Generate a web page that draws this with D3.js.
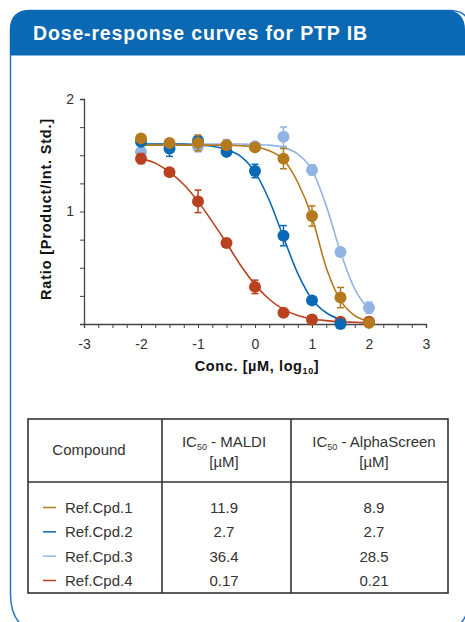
<!DOCTYPE html>
<html>
<head>
<meta charset="utf-8">
<script src="https://cdn.jsdelivr.net/npm/d3@7"></script>
<style>
  body { margin: 0; background: #fff; }
  svg { display: block; font-family: "Liberation Sans", Arial, sans-serif; }
</style>
</head>
<body>
<svg width="465" height="622"></svg>
<script>
// measured concentrations (log10 µM)
const concLog = [-2, -1.5, -1, -0.5, 0, 0.5, 1, 1.5, 2];

const cpd1Ratio = [1.65, 1.61, 1.61, 1.59, 1.57, 1.47, 0.96, 0.235, 0.01];
const cpd1Err   = [0.02, 0.02, 0.07, 0.02, 0.02, 0.09, 0.09, 0.09, 0.02];
const cpd2Ratio = [1.62, 1.56, 1.63, 1.53, 1.36, 0.785, 0.21, 0.0];
const cpd2Err   = [0.03, 0.07, 0.04, 0.02, 0.06, 0.09, 0.02, 0.02];
const cpd3Ratio = [1.53, 1.59, 1.58, 1.59, 1.58, 1.665, 1.37, 0.64, 0.145];
const cpd3Err   = [0.02, 0.03, 0.05, 0.05, 0.02, 0.086, 0.045, 0.02, 0.05];
const cpd4Ratio = [1.47, 1.35, 1.09, 0.72, 0.33, 0.10, 0.04, 0.02, 0.02];
const cpd4Err   = [0.045, 0.02, 0.10, 0.02, 0.06, 0.02, 0.02, 0.02, 0.03];

// fitted curves at quarter-log steps
const fitLog = [-2, -1.75, -1.5, -1.25, -1, -0.75, -0.5, -0.25, 0, 0.25, 0.5, 0.75, 1, 1.25, 1.5, 1.75, 2];
const cpd1Fit = [1.59, 1.59, 1.59, 1.59, 1.59, 1.59, 1.59, 1.585, 1.575, 1.54, 1.46, 1.26, 0.95, 0.5, 0.21, 0.075, 0.025];
const cpd2Fit = [1.60, 1.60, 1.60, 1.60, 1.59, 1.58, 1.55, 1.49, 1.35, 1.10, 0.77, 0.45, 0.22, 0.10, 0.04];
const cpd3Fit = [1.60, 1.60, 1.60, 1.60, 1.60, 1.60, 1.60, 1.60, 1.595, 1.59, 1.57, 1.51, 1.37, 1.05, 0.64, 0.31, 0.13];
const cpd4Fit = [1.47, 1.43, 1.35, 1.24, 1.09, 0.91, 0.72, 0.52, 0.35, 0.22, 0.13, 0.075, 0.045, 0.03, 0.02, 0.015, 0.01];

// table
const compounds = ["Ref.Cpd.1", "Ref.Cpd.2", "Ref.Cpd.3", "Ref.Cpd.4"];
const ic50Maldi = ["11.9", "2.7", "36.4", "0.17"];
const ic50Alpha = ["8.9", "2.7", "28.5", "0.21"];

const xTicks = [-3, -2, -1, 0, 1, 2, 3];
const yTicks = [0, 1, 2];

const colors = ["#b57a1e", "#0a69b4", "#92b4e2", "#b9411d"];

const series = [
  { name: compounds[0], color: colors[0], y: cpd1Ratio, err: cpd1Err, fit: cpd1Fit },
  { name: compounds[1], color: colors[1], y: cpd2Ratio, err: cpd2Err, fit: cpd2Fit },
  { name: compounds[2], color: colors[2], y: cpd3Ratio, err: cpd3Err, fit: cpd3Fit },
  { name: compounds[3], color: colors[3], y: cpd4Ratio, err: cpd4Err, fit: cpd4Fit }
];
// draw order seen in the picture (gold on top)
const drawOrder = [2, 3, 1, 0];

const svg = d3.select("svg");

// card frame: small top radius, large bottom radius, right side runs off the page
const L = 10.5, R = 470, T = 10.5, B = 634, rt = 20, rb = 40;
svg.append("path")
  .attr("d", `M${L},${T + rt} Q${L},${T} ${L + rt},${T} H${R - rt} Q${R},${T} ${R},${T + rt} V${B - rb} Q${R},${B} ${R - rb},${B} H${L + rb} Q${L},${B} ${L},${B - rb} Z`)
  .attr("fill", "#fff")
  .attr("stroke", "#2577c4")
  .attr("stroke-width", 1.5);

const hh = 45, HR = 465;
svg.append("path")
  .attr("d", `M${L - 0.5},${T + hh} V${T + rt} Q${L - 0.5},${T - 0.5} ${L + rt},${T - 0.5} H${HR - rt} Q${HR},${T - 0.5} ${HR},${T + rt} V${T + hh} Z`)
  .attr("fill", "#0b68b2");

svg.append("text")
  .attr("x", 33).attr("y", 40)
  .attr("fill", "#fff")
  .attr("font-size", 19.5)
  .attr("font-weight", "bold")
  .attr("letter-spacing", 0.85)
  .text("Dose-response curves for PTP IB");

// plot
const x = d3.scaleLinear().domain([-3, 3]).range([84, 426]);
const y = d3.scaleLinear().domain([0, 2]).range([324, 99]);

const xAxis = svg.append("g")
  .attr("transform", `translate(0,${y(0)})`)
  .call(d3.axisBottom(x)
    .tickValues(d3.range(-3, 3.001, 0.25))
    .tickSize(4)
    .tickPadding(11)
    .tickFormat(d => xTicks.includes(d) ? d3.format("")(d).replace("−", "-") : ""));

const yAxis = svg.append("g")
  .attr("transform", `translate(${x(-3)},0)`)
  .call(d3.axisLeft(y)
    .tickValues(d3.range(0, 2.001, 0.25))
    .tickSize(4)
    .tickPadding(6)
    .tickFormat(d => yTicks.includes(d) && d !== 0 ? d : ""));

[xAxis, yAxis].forEach(g => {
  g.select(".domain").attr("stroke", "#444").attr("stroke-width", 1.3);
  g.selectAll(".tick line").attr("stroke", "#444").attr("stroke-width", 1);
  g.selectAll(".tick text")
    .attr("fill", "#333")
    .attr("font-size", 14)
    .attr("font-family", "Liberation Sans, Arial, sans-serif");
});

svg.append("text")
  .attr("transform", "translate(51,209) rotate(-90)")
  .attr("text-anchor", "middle")
  .attr("font-size", 14.5)
  .attr("font-weight", "bold")
  .attr("letter-spacing", 0.8)
  .attr("fill", "#111")
  .text("Ratio [Product/Int. Std.]");

const xTitle = svg.append("text")
  .attr("x", 257).attr("y", 371)
  .attr("text-anchor", "middle")
  .attr("font-size", 14.5)
  .attr("font-weight", "bold")
  .attr("letter-spacing", 0.6)
  .attr("fill", "#111");
xTitle.append("tspan").text("Conc. [µM, log");
xTitle.append("tspan").attr("font-size", 9).attr("dy", 3).text("10");
xTitle.append("tspan").attr("dy", -3).text("]");

const line = d3.line()
  .x((d, i) => x(fitLog[i]))
  .y(d => y(d))
  .curve(d3.curveMonotoneX);

drawOrder.forEach(k => {
  const s = series[k];
  svg.append("path")
    .datum(s.fit)
    .attr("fill", "none")
    .attr("stroke", s.color)
    .attr("stroke-width", 1.6)
    .attr("d", line);
});

drawOrder.forEach(k => {
  const s = series[k];
  const pts = s.y.map((v, i) => ({ x: concLog[i], y: v, e: s.err[i] }));
  const g = svg.append("g").attr("stroke", s.color).attr("fill", s.color);
  const eb = g.selectAll(".err").data(pts).enter().append("g");
  eb.append("line")
    .attr("x1", d => x(d.x)).attr("x2", d => x(d.x))
    .attr("y1", d => y(d.y - d.e)).attr("y2", d => y(d.y + d.e))
    .attr("stroke-width", 1.5);
  [-1, 1].forEach(sign => {
    eb.append("line")
      .attr("x1", d => x(d.x) - 3.5).attr("x2", d => x(d.x) + 3.5)
      .attr("y1", d => y(d.y + sign * d.e)).attr("y2", d => y(d.y + sign * d.e))
      .attr("stroke-width", 1.5);
  });
  g.selectAll("circle").data(pts).enter().append("circle")
    .attr("cx", d => x(d.x)).attr("cy", d => y(d.y))
    .attr("r", 6)
    .attr("stroke", "none");
});

// IC50 table
const tX = [28, 162, 291, 448];
const tTop = 419, tHead = 482, tBot = 593;
const tg = svg.append("g").attr("font-size", 15).attr("fill", "#333");
tg.append("rect")
  .attr("x", tX[0]).attr("y", tTop)
  .attr("width", tX[3] - tX[0]).attr("height", tBot - tTop)
  .attr("fill", "none").attr("stroke", "#333").attr("stroke-width", 1.6);
tg.append("line").attr("x1", tX[0]).attr("x2", tX[3]).attr("y1", tHead).attr("y2", tHead)
  .attr("stroke", "#333").attr("stroke-width", 1.6);
[tX[1], tX[2]].forEach(cx => {
  tg.append("line").attr("x1", cx).attr("x2", cx).attr("y1", tTop).attr("y2", tBot)
    .attr("stroke", "#333").attr("stroke-width", 1.6);
});

tg.append("text").attr("x", 89).attr("y", 455).attr("text-anchor", "middle").text("Compound");

function icHeader(cx, label) {
  const t = tg.append("text").attr("x", cx).attr("y", 447).attr("text-anchor", "middle");
  t.append("tspan").text("IC");
  t.append("tspan").attr("font-size", 9).attr("dy", 3).text("50");
  t.append("tspan").attr("dy", -3).text(" - " + label);
  tg.append("text").attr("x", cx).attr("y", 467).attr("text-anchor", "middle").text("[µM]");
}
icHeader(224, "MALDI");
icHeader(374, "AlphaScreen");

const rowY = d3.scalePoint().domain(compounds).range([513, 586]);
compounds.forEach((c, i) => {
  const yy = rowY(c);
  tg.append("line")
    .attr("x1", 43).attr("x2", 56)
    .attr("y1", yy - 5.5).attr("y2", yy - 5.5)
    .attr("stroke", colors[i]).attr("stroke-width", 1.5);
  tg.append("text").attr("x", 65).attr("y", yy).text(c);
  tg.append("text").attr("x", 224).attr("y", yy).attr("text-anchor", "middle").text(ic50Maldi[i]);
  tg.append("text").attr("x", 374).attr("y", yy).attr("text-anchor", "middle").text(ic50Alpha[i]);
});
</script>
</body>
</html>
